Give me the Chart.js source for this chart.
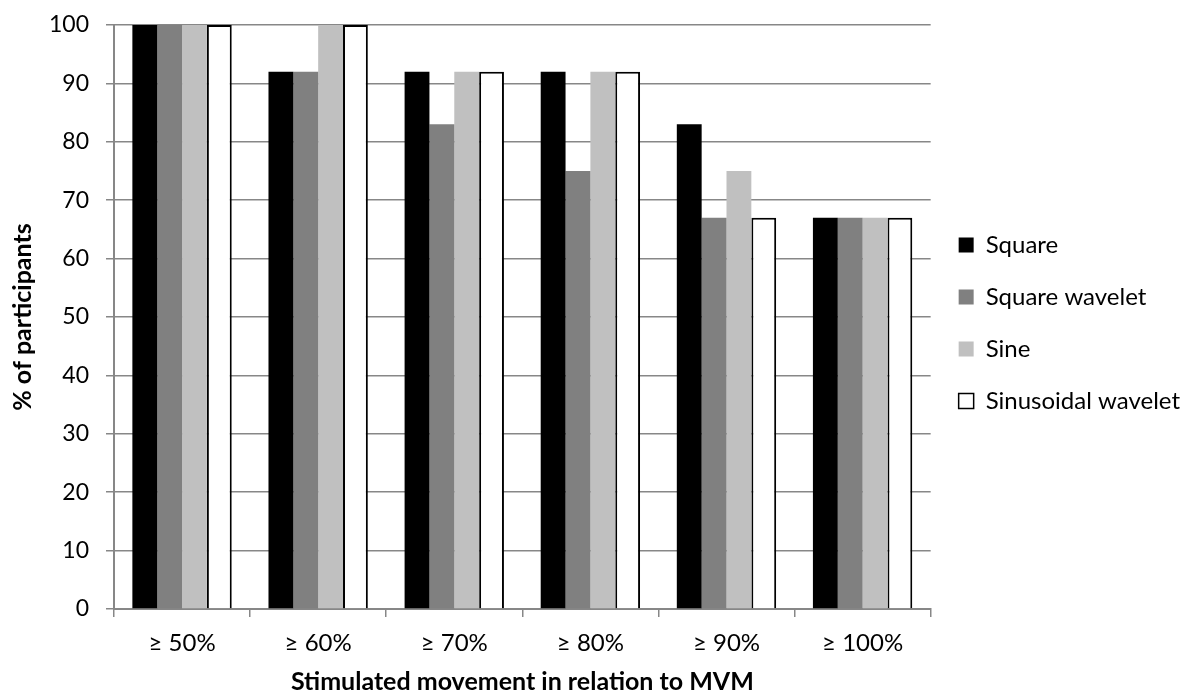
<!DOCTYPE html>
<html>
<head>
<meta charset="utf-8">
<script src="https://cdn.jsdelivr.net/npm/chart.js@4.4.1/dist/chart.umd.min.js"></script>
<style>
html,body{margin:0;padding:0;background:#fff;}
#wrap{width:1190px;height:695px;position:relative;}
</style>
</head>
<body>
<div id="wrap"><canvas id="c" width="1190" height="695"></canvas></div>
<script>
const categories = ["≥ 50%", "≥ 60%", "≥ 70%", "≥ 80%", "≥ 90%", "≥ 100%"];
const square = [100, 92, 92, 92, 83, 67];
const squareWavelet = [100, 92, 83, 75, 67, 67];
const sine = [100, 100, 92, 92, 75, 67];
const sinusoidalWavelet = [100, 100, 92, 92, 67, 67];
const yTicks = [0, 10, 20, 30, 40, 50, 60, 70, 80, 90, 100];

const FONT = "Lato, 'Open Sans', sans-serif";
const GRID = "#878787";

new Chart(document.getElementById('c'), {
  type: 'bar',
  data: {
    labels: categories,
    datasets: [
      {label: 'Square', data: square, backgroundColor: '#000000', borderColor: '#000000', borderWidth: 0},
      {label: 'Square wavelet', data: squareWavelet, backgroundColor: '#808080', borderColor: '#808080', borderWidth: 0},
      {label: 'Sine', data: sine, backgroundColor: '#c0c0c0', borderColor: '#c0c0c0', borderWidth: 0},
      {label: 'Sinusoidal wavelet', data: sinusoidalWavelet, backgroundColor: '#ffffff', borderColor: '#000000', borderWidth: 2}
    ]
  },
  options: {
    responsive: false,
    animation: false,
    devicePixelRatio: 1,
    layout: {padding: {top: 25, left: 6, right: 0, bottom: 0}},
    datasets: {bar: {categoryPercentage: 0.73, barPercentage: 1.0, borderSkipped: 'bottom'}},
    plugins: {
      tooltip: {enabled: false},
      legend: {
        position: 'right',
        align: 'start',
        title: {display: true, text: ' ', font: {family: FONT, size: 10, lineHeight: 1}, padding: {top: 170, bottom: 0}},
        labels: {
          color: '#000',
          font: {family: FONT, size: 24},
          boxWidth: 15,
          boxHeight: 15,
          padding: 28,
          generateLabels: (chart) => chart.data.datasets.map((ds, i) => ({
            text: ds.label,
            fillStyle: ds.backgroundColor,
            strokeStyle: i === 3 ? '#000' : ds.backgroundColor,
            lineWidth: i === 3 ? 1.5 : 0,
            fontColor: '#000',
            datasetIndex: i,
            hidden: false
          }))
        }
      }
    },
    scales: {
      x: {
        offset: true,
        afterFit: (axis) => { axis.height = 86; axis.paddingLeft = 0; axis.paddingRight = 0; },
        grid: {display: true, drawOnChartArea: false, drawTicks: true, tickLength: 8, color: GRID, lineWidth: 1.5, offset: true},
        border: {display: true, color: GRID, width: 2},
        ticks: {color: '#000', font: {family: FONT, size: 24}, padding: 12, maxRotation: 0},
        title: {display: true, text: 'Stimulated movement in relation to MVM', color: '#000', font: {family: FONT, size: 25, weight: 'bold', lineHeight: 1.0}, padding: {top: 0, bottom: 1}}
      },
      y: {
        min: 0, max: 100,
        afterFit: (axis) => { axis.width = 108; axis.paddingTop = 0; axis.paddingBottom = 0; },
        afterBuildTicks: (axis) => { axis.ticks = yTicks.map(v => ({value: v})); },
        grid: {color: GRID, lineWidth: 1.5, tickLength: 8},
        border: {display: true, color: GRID, width: 2},
        ticks: {color: '#000', font: {family: FONT, size: 23}, padding: 17},
        title: {display: true, text: '% of participants', color: '#000', font: {family: FONT, size: 25, weight: 'bold'}, padding: {top: 2, bottom: 0}}
      }
    }
  }
});
</script>
</body>
</html>
